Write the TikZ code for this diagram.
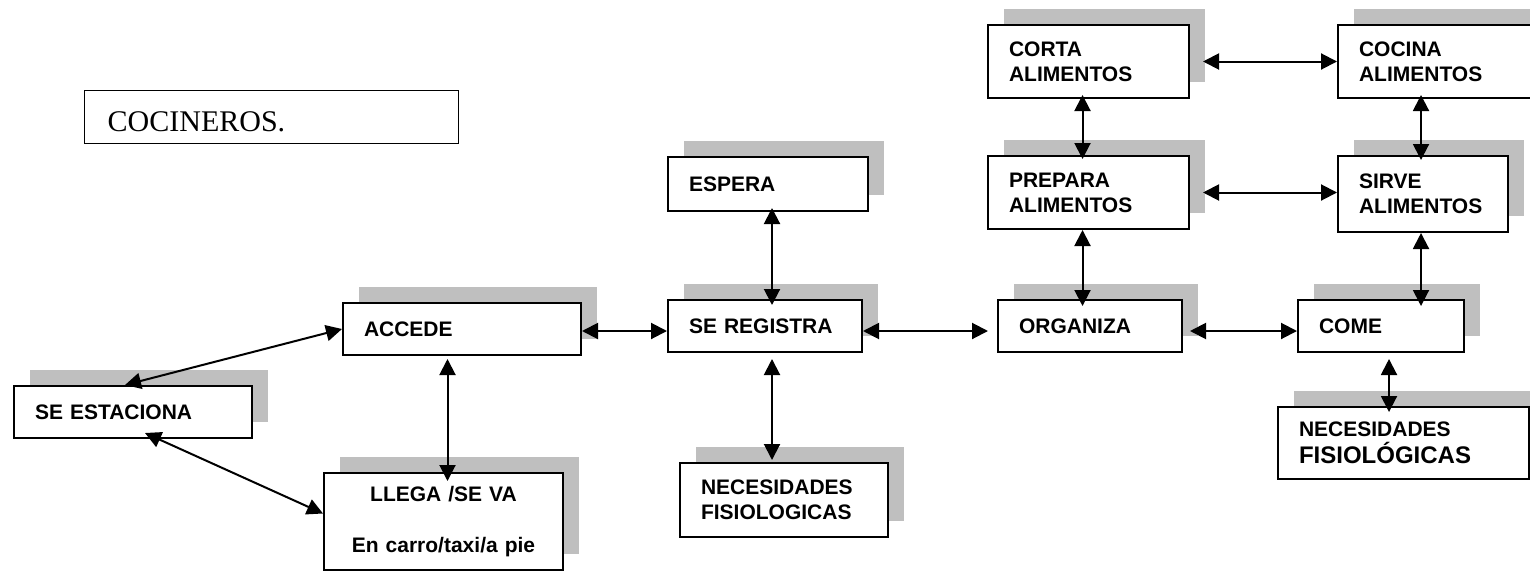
\documentclass[tikz,border=0pt]{standalone}
\usepackage{fontspec}
\setmainfont{Liberation Serif}
\setsansfont{Liberation Sans}
\usetikzlibrary{arrows.meta,shadows}
\tikzset{
	caja/.style={draw, line width=1pt, fill=white, anchor=north west, align=left, inner xsep=10.5pt,
		font=\sffamily\bfseries\fontsize{10.5}{12.5}\selectfont,
		drop shadow={shadow xshift=8pt, shadow yshift=8pt, fill=black!25, opacity=1}},
	titulo/.style={draw, line width=0.7pt, anchor=north west, align=left, inner xsep=11.5pt,
		font=\fontsize{15}{18}\selectfont},
	flecha/.style={<->, >={Triangle[length=8pt,width=8pt]}, line width=1pt},
}

\begin{document}
\begin{tikzpicture}[x=0.5pt, y=-0.5pt]
	\useasboundingbox (0,0) rectangle (1530,573);
	\clip (0,0) rectangle (1530,573);

	\node [titulo, text width=164pt, minimum height=26.5pt, text height=14.5pt] (tit) at (84,90) {COCINEROS.};

	\node [caja, text width=98pt, minimum height=26pt] (est) at (13,385) {SE ESTACIONA};
	\node [caja, text width=98pt, minimum height=26pt] (acc) at (342,302) {ACCEDE};
	\node [caja, text width=98.5pt, minimum height=48.5pt, align=center] (llega) at (323,472) {LLEGA /SE VA\\[13pt]En carro/taxi/a pie};
	\node [caja, text width=79pt, minimum height=27pt] (esp) at (667,156) {ESPERA};
	\node [caja, text width=76pt, minimum height=26pt] (reg) at (667,299) {SE REGISTRA};
	\node [caja, text width=83pt, minimum height=37pt] (nec) at (679,462) {NECESIDADES\\FISIOLOGICAS};
	\node [caja, text width=79.5pt, minimum height=36.5pt] (corta) at (987,24) {CORTA\\ALIMENTOS};
	\node [caja, text width=81pt, minimum height=36.5pt] (cocina) at (1337,24) {COCINA\\ALIMENTOS};
	\node [caja, text width=79.5pt, minimum height=36.5pt] (prep) at (987,155) {PREPARA\\ALIMENTOS};
	\node [caja, text width=64pt, minimum height=38pt] (sirve) at (1337,155) {SIRVE\\ALIMENTOS};
	\node [caja, text width=71pt, minimum height=26pt] (org) at (997,299) {ORGANIZA};
	\node [caja, text width=62pt, minimum height=26pt] (come) at (1297,299) {COME};
	\node [caja, text width=104.5pt, minimum height=36pt] (necb) at (1277,406) {NECESIDADES\\[1pt]{\fontsize{12}{14}\selectfont FISIOL\'OGICAS}};

	\draw [flecha] (acc.west) -- ([xshift=-4pt]est.north);
	\draw [flecha] ([xshift=6pt,yshift=3pt]est.south) -- ([yshift=4pt]llega.west);
	\draw [flecha, shorten <=1.5pt, shorten >=-4.5pt] ([xshift=2pt]acc.south -| llega.north) -- ([xshift=2pt]llega.north);
	\draw [flecha] ([yshift=-1pt]acc.east) -- ([yshift=-1pt]acc.east -| reg.west);
	\draw [flecha, shorten <=-2pt, shorten >=-3pt] ([xshift=2pt]esp.south) -- ([xshift=2pt]esp.south |- reg.north);
	\draw [flecha, shorten <=3pt, shorten >=1pt] ([xshift=3.5pt]reg.south) -- ([xshift=3.5pt]reg.south |- nec.north);
	\draw [flecha, shorten >=4.5pt] ([yshift=-2.5pt]reg.east) -- ([yshift=-2.5pt]reg.east -| org.west);
	\draw [flecha, shorten <=3.5pt] ([yshift=-2.5pt]org.east) -- ([yshift=-2.5pt]org.east -| come.west);
	\draw [flecha, shorten <=6.5pt] (corta.east) -- (corta.east -| cocina.west);
	\draw [flecha, shorten <=6.5pt] (prep.east) -- (prep.east -| sirve.west);
	\draw [flecha, shorten <=-2pt, shorten >=-2pt] ([xshift=-3pt]corta.south) -- ([xshift=-3pt]prep.north);
	\draw [flecha, shorten >=-3.5pt] ([xshift=-3pt]prep.south) -- ([xshift=-3pt]prep.south |- org.north);
	\draw [flecha, shorten <=-2pt, shorten >=-2.5pt] ([xshift=-1pt]sirve.north |- cocina.south) -- ([xshift=-1pt]sirve.north);
	\draw [flecha, shorten >=-3.5pt] ([xshift=-1pt]sirve.south) -- ([xshift=-1pt]sirve.south |- come.north);
	\draw [flecha, shorten <=3pt, shorten >=-3pt] ([xshift=4pt]come.south) -- ([xshift=4pt]come.south |- necb.north);
\end{tikzpicture}
\end{document}
